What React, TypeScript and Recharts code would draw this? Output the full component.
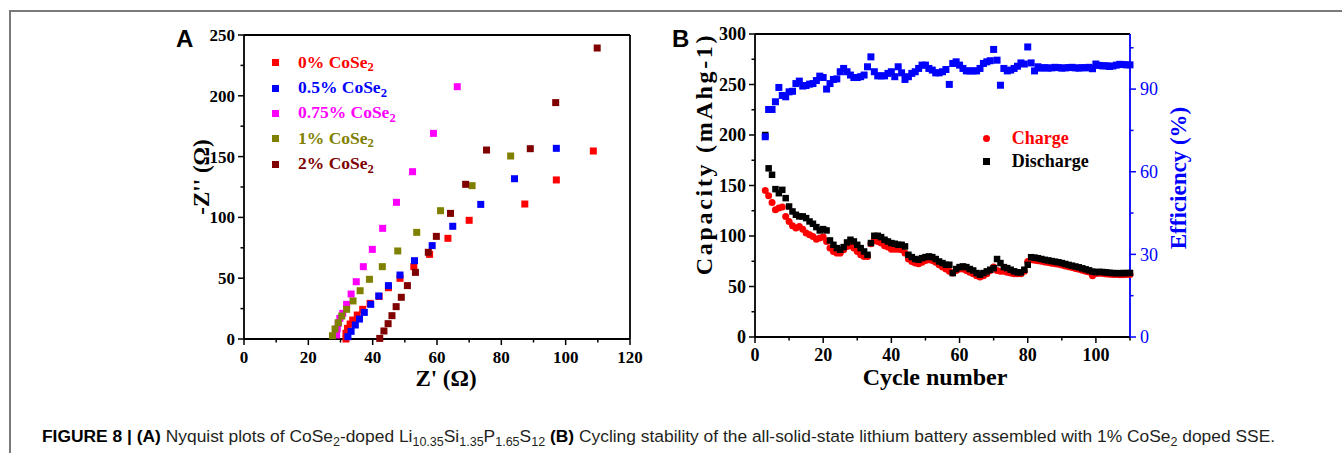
import React from 'react';
import { ScatterChart, Scatter, XAxis, YAxis, ReferenceLine, Legend } from 'recharts';

// ---- Panel A: Nyquist plots, Z' (re) vs -Z'' (im) ----
const re0 = [31.7, 31.7, 32.2, 33, 33.8, 35.2, 36.9, 39.2, 42, 44.9, 48.5, 52.8, 57.7, 63.4, 70, 87.3, 97.1, 108.6];
const im0 = [0, 4.7, 8.8, 12.3, 15.6, 19.7, 24.4, 29.3, 35, 42.2, 49.9, 59.5, 69.6, 82.8, 97.6, 111, 130.8, 154.6];
const re05 = [32.3, 33.3, 34.6, 35.9, 37.4, 39.4, 41.9, 44.9, 48.5, 53, 58.5, 64.9, 73.6, 84.1, 97.1];
const im05 = [1.9, 6.3, 11.5, 16.4, 21.9, 28.5, 35.4, 43.9, 52.6, 64.4, 76.8, 92.7, 110.7, 131.8, 156.8];
const re075 = [28.8, 29, 29.3, 29.8, 30.7, 31.9, 33.3, 34.9, 37.1, 39.9, 43.1, 47.4, 52.4, 58.9, 66.3];
const im075 = [3.3, 8.5, 12.9, 17, 21.1, 28.5, 37, 47.1, 59.5, 73.7, 91, 112.4, 137.6, 169.1, 207.5];
const re1 = [27.5, 28.3, 29.3, 30.4, 31.9, 33.9, 36.1, 39, 43, 47.8, 53.7, 61.1, 70.9, 82.9];
const im1 = [2.7, 8.2, 13.4, 18.9, 24.4, 31.3, 39.7, 49.1, 59.5, 72.4, 87.7, 105.5, 126.1, 150.5];
const re2 = [42.2, 43.5, 44.8, 46, 47.3, 48.9, 50.8, 53.3, 57.3, 59.8, 64.2, 68.9, 75.4, 89, 96.9, 109.8];
const im2 = [0.5, 6.6, 12.6, 19.2, 26.6, 34.3, 43.9, 54.8, 71.3, 84.4, 103.3, 127.2, 155.4, 156.5, 194.4, 239.3];

const aXTicks = [0, 10, 20, 30, 40, 50, 60, 70, 80, 90, 100, 110, 120];
const aYTicks = [0, 25, 50, 75, 100, 125, 150, 175, 200, 225, 250];

// ---- Panel B: cycling, cycles 3..110 ----
const firstCycle = 3;
const discharge = [
  200, 167, 160.6, 146.4, 142.4, 145.7, 137.5, 129.2, 124.3, 121,
  119.4, 119.4, 117.7, 114.4, 112.1, 108.8, 105.5, 106.8, 105.5, 95.6,
  91.3, 88, 86.4, 89, 93.6, 96.3, 94.6, 91.3, 88, 84.7,
  81.4, 93, 100.2, 100.2, 98.9, 96.3, 94.6, 93, 92.3, 91.3,
  91.3, 89.7, 81.4, 79.1, 77.2, 76.5, 78.1, 79.1, 79.8, 79.1,
  77.2, 74.8, 73.2, 71.5, 71.5, 63.3, 67.3, 69.2, 69.9, 69.2,
  67.3, 65.9, 63.3, 61.7, 63.3, 65, 66.6, 68.2, 77.2, 73.2,
  69.2, 68.2, 66.6, 65, 64, 64, 66.6, 71.5, 79, 78.6,
  78, 77.2, 76.4, 75.8, 75.2, 74.6, 74, 73.2, 72.3, 71.4,
  70.6, 69.8, 69, 68, 67, 66, 64.8, 64.2, 64.5, 64.3,
  64, 63.6, 63.3, 63.2, 63.2, 63.3, 63.3, 63.4,
];
const charge = [
  145, 139.8, 133.2, 126, 127.6, 128.6, 119.4, 114.4, 110.1, 107.8,
  109.5, 106.8, 102.9, 101.2, 99.6, 96.9, 97.9, 98.9, 94.6, 88,
  84.7, 83.1, 83.1, 86.4, 89.7, 90.3, 88, 84.7, 81.4, 79.8,
  79.8, 92.3, 95.6, 94.6, 93, 90.3, 89, 87, 87, 87,
  86.4, 83.1, 77.2, 74.8, 73.2, 72.5, 73.9, 75.8, 76.5, 75.8,
  73.9, 71.5, 69.2, 67.3, 65, 63.3, 65.9, 67.3, 67.3, 65.9,
  64, 62.6, 60.7, 59.3, 60.7, 62.6, 65.9, 69.2, 65.9, 65,
  65, 64, 63.3, 62.6, 62.6, 62.6, 65, 74.8, 76.5, 76,
  75.6, 75, 74.3, 73.7, 73.1, 72.5, 72, 71.2, 70.4, 69.5,
  68.7, 67.9, 67, 66.1, 65.2, 64.3, 60.7, 62.8, 63, 62.8,
  62.5, 62.2, 62, 61.8, 61.7, 61.7, 61.8, 61.8,
];
const efficiency = [
  72.7, 82.6, 82.6, 85.4, 90.6, 87.7, 87.2, 89, 89.2, 92,
  92.9, 91.1, 91.3, 91.8, 92, 93.1, 94.7, 94.2, 90, 92,
  93.5, 93.7, 96.3, 97.5, 96.3, 95.1, 94.2, 94.2, 94.5, 95.1,
  98.1, 101.7, 96.3, 94.8, 94.8, 94.8, 95.7, 96.3, 94.5, 98.1,
  95.9, 93.5, 94.5, 95.7, 96.3, 97.5, 98.7, 98.7, 97.5, 96.9,
  95.9, 95.9, 96.3, 97.1, 91.7, 99.3, 99.9, 98.7, 97.5, 96.6,
  96.6, 96.6, 96.6, 97.5, 99.3, 99.9, 100.3, 104.4, 100.5, 91.4,
  97.5, 96.6, 96.9, 97.5, 98.3, 99.5, 99.1, 105.3, 99.5, 96.6,
  98.1, 97.6, 97.8, 97.6, 97.7, 97.9, 97.8, 97.6, 97.7, 97.8,
  97.9, 97.7, 97.6, 97.8, 97.7, 97.9, 97.4, 99.1, 98.6, 98.4,
  98.5, 98.2, 98.4, 98.7, 99, 98.9, 98.8, 98.8,
];

const bXTicks = [0, 10, 20, 30, 40, 50, 60, 70, 80, 90, 100, 110];
const bLeftTicks = [0, 25, 50, 75, 100, 125, 150, 175, 200, 225, 250, 275, 300];
const bRightTicks = [0, 15, 30, 45, 60, 75, 90, 105];

const zip = (xs: number[], ys: number[]) => xs.map((x, i) => ({ x, y: ys[i] }));
const byCycle = (ys: number[]) => ys.map((y, i) => ({ x: firstCycle + i, y }));

const seriesA = [
  { name: '0% CoSe', color: '#ff0000', data: zip(re0, im0) },
  { name: '0.5% CoSe', color: '#0000ff', data: zip(re05, im05) },
  { name: '0.75% CoSe', color: '#ff00ff', data: zip(re075, im075) },
  { name: '1% CoSe', color: '#808000', data: zip(re1, im1) },
  { name: '2% CoSe', color: '#800000', data: zip(re2, im2) },
];

const SERIF = '"Liberation Serif", "Times New Roman", serif';
const SANS = '"Liberation Sans", Arial, sans-serif';
const TS = 6;
const TM = 4;

function makeTick(side: 'bottom' | 'left' | 'right', step: number, fontSize: number, color: string, weight: string | number) {
  return (props: any) => {
    const { x, y, payload } = props;
    const v = payload.value;
    const major = v % step === 0;
    const len = major ? 6 : 3.5;
    const txt = { fontFamily: SERIF, fontSize, fontWeight: weight, fill: color } as any;
    if (side === 'bottom') {
      const ay = y - TS - TM;
      return (
        <g>
          <line x1={x} x2={x} y1={ay} y2={ay + len} stroke={color} strokeWidth={1.5} />
          {major && <text x={x} y={ay + 24} textAnchor="middle" {...txt}>{v}</text>}
        </g>
      );
    }
    if (side === 'left') {
      const ax = x + TS + TM;
      return (
        <g>
          <line x1={ax} x2={ax - len} y1={y} y2={y} stroke={color} strokeWidth={1.5} />
          {major && <text x={ax - 9} y={y} dy="0.35em" textAnchor="end" {...txt}>{v}</text>}
        </g>
      );
    }
    const ax = x - TS - TM;
    return (
      <g>
        <line x1={ax} x2={ax + len} y1={y} y2={y} stroke={color} strokeWidth={1.5} />
        {major && <text x={ax + 10} y={y} dy="0.35em" textAnchor="start" {...txt}>{v}</text>}
      </g>
    );
  };
}

const square = (size: number, color: string) => (p: any) => (
  <rect x={p.cx - size / 2} y={p.cy - size / 2} width={size} height={size} fill={color} />
);
const circle = (size: number, color: string) => (p: any) => (
  <circle cx={p.cx} cy={p.cy} r={size / 2} fill={color} />
);

const Sub = ({ children }: { children: React.ReactNode }) => (
  <span style={{ fontSize: '0.72em', position: 'relative', top: '0.28em' }}>{children}</span>
);

const abs = (left: number, top: number, extra: React.CSSProperties = {}): React.CSSProperties => ({
  position: 'absolute',
  left,
  top,
  whiteSpace: 'nowrap',
  ...extra,
});

function LegendA() {
  return (
    <div style={{ fontFamily: SERIF, fontWeight: 'bold', fontSize: 17.5 }}>
      {seriesA.map((s) => (
        <div key={s.name} style={{ display: 'flex', alignItems: 'center', height: 25.4 }}>
          <span style={{ width: 7, height: 7, background: s.color, display: 'inline-block' }} />
          <span style={{ marginLeft: 19.5, color: s.color, lineHeight: '20px' }}>
            {s.name}
            <Sub>2</Sub>
          </span>
        </div>
      ))}
    </div>
  );
}

function LegendB() {
  return (
    <div style={{ fontFamily: SERIF, fontWeight: 'bold', fontSize: 18 }}>
      <div style={{ display: 'flex', alignItems: 'center', height: 22.7 }}>
        <span style={{ width: 7, height: 7, borderRadius: '50%', background: '#ff0000', display: 'inline-block' }} />
        <span style={{ marginLeft: 21.7, color: '#ff0000' }}>Charge</span>
      </div>
      <div style={{ display: 'flex', alignItems: 'center', height: 22.7 }}>
        <span style={{ width: 7, height: 7, background: '#000', display: 'inline-block' }} />
        <span style={{ marginLeft: 21.7, color: '#000' }}>Discharge</span>
      </div>
    </div>
  );
}

const axisLine = { stroke: '#000', strokeWidth: 1.8 };

function PanelA() {
  return (
    <div style={abs(150, 20)}>
      <ScatterChart width={500} height={380} margin={{ top: 15, right: 20, bottom: 0, left: 0 }}>
        <XAxis
          type="number"
          dataKey="x"
          domain={[0, 120]}
          ticks={aXTicks}
          interval={0}
          height={61}
          tickSize={TS}
          tickMargin={TM}
          tickLine={false}
          axisLine={axisLine}
          tick={makeTick('bottom', 20, 17, '#000', 'bold')}
        />
        <YAxis
          type="number"
          dataKey="y"
          domain={[0, 250]}
          ticks={aYTicks}
          interval={0}
          width={94}
          tickSize={TS}
          tickMargin={TM}
          tickLine={false}
          axisLine={axisLine}
          tick={makeTick('left', 50, 17, '#000', 'bold')}
        />
        <ReferenceLine y={250} stroke="#000" strokeWidth={1.8} />
        <ReferenceLine x={120} stroke="#000" strokeWidth={1.8} />
        {seriesA.map((s) => (
          <Scatter key={s.name} name={s.name} data={s.data} fill={s.color} shape={square(7, s.color)} isAnimationActive={false} />
        ))}
        <Legend
          layout="vertical"
          align="center"
          verticalAlign="middle"
          wrapperStyle={{ left: 121.5, top: 30, width: 220, height: 130 }}
          content={() => <LegendA />}
        />
      </ScatterChart>
    </div>
  );
}

function PanelB() {
  return (
    <div style={abs(660, 20)}>
      <ScatterChart width={540} height={380} margin={{ top: 14, right: 0, bottom: 0, left: 0 }}>
        <XAxis
          type="number"
          dataKey="x"
          domain={[0, 110]}
          ticks={bXTicks}
          interval={0}
          height={63}
          tickSize={TS}
          tickMargin={TM}
          tickLine={false}
          axisLine={axisLine}
          tick={makeTick('bottom', 20, 18, '#000', 'bold')}
        />
        <YAxis
          yAxisId="left"
          type="number"
          dataKey="y"
          domain={[0, 300]}
          ticks={bLeftTicks}
          interval={0}
          width={95}
          tickSize={TS}
          tickMargin={TM}
          tickLine={false}
          axisLine={axisLine}
          tick={makeTick('left', 50, 18, '#000', 'bold')}
        />
        <YAxis
          yAxisId="right"
          orientation="right"
          type="number"
          dataKey="y"
          domain={[0, 110]}
          ticks={bRightTicks}
          interval={0}
          width={70}
          tickSize={TS}
          tickMargin={TM}
          tickLine={false}
          axisLine={{ stroke: '#0000ff', strokeWidth: 1.8 }}
          tick={makeTick('right', 30, 18, '#0000ff', 'normal')}
        />
        <ReferenceLine yAxisId="left" y={300} stroke="#000" strokeWidth={1.8} />
        <Scatter yAxisId="left" name="Charge" data={byCycle(charge)} fill="#ff0000" shape={circle(7, '#ff0000')} isAnimationActive={false} />
        <Scatter yAxisId="left" name="Discharge" data={byCycle(discharge)} fill="#000" shape={square(6.5, '#000')} isAnimationActive={false} />
        <Scatter yAxisId="right" name="Efficiency" data={byCycle(efficiency)} fill="#0000ff" shape={square(7, '#0000ff')} isAnimationActive={false} />
        <Legend
          layout="vertical"
          align="center"
          verticalAlign="middle"
          wrapperStyle={{ left: 323, top: 107.6, width: 140, height: 46 }}
          content={() => <LegendB />}
        />
      </ScatterChart>
    </div>
  );
}

const titleStyle: React.CSSProperties = { fontFamily: SERIF, fontWeight: 'bold', fontSize: 23, lineHeight: 1 };

export default function App() {
  return (
    <div style={{ position: 'absolute', left: 0, top: 0, width: 1342, height: 453, background: '#fff', overflow: 'hidden' }}>
      <div style={{ position: 'absolute', left: 9, top: 10, width: 1333, height: 443, borderTop: '2px solid #7a7a7a', borderLeft: '2px solid #7a7a7a' }} />
      <PanelA />
      <PanelB />

      <div style={abs(176, 27, { fontFamily: SANS, fontWeight: 'bold', fontSize: 24, lineHeight: 1 })}>A</div>
      <div style={abs(672, 27, { fontFamily: SANS, fontWeight: 'bold', fontSize: 24, lineHeight: 1 })}>B</div>

      <div style={abs(446, 378, { ...titleStyle, transform: 'translate(-50%, -50%)' })}>Z' (Ω)</div>
      <div style={abs(201, 177, { ...titleStyle, transform: 'translate(-50%, -50%) rotate(-90deg)' })}>-Z'' (Ω)</div>

      <div style={abs(935, 377, { ...titleStyle, fontSize: 24, transform: 'translate(-50%, -50%)' })}>Cycle number</div>
      <div style={abs(704, 154, { ...titleStyle, fontSize: 24, letterSpacing: 2.7, transform: 'translate(-50%, -50%) rotate(-90deg)' })}>Capacity (mAhg-1)</div>
      <div style={abs(1178, 178, { ...titleStyle, color: '#0000ff', transform: 'translate(-50%, -50%) rotate(-90deg)' })}>Efficiency (%)</div>

      <div style={abs(42, 426, { fontFamily: SANS, fontSize: 17.4, lineHeight: '20px', color: '#231f20' })}>
        <b style={{ color: '#000' }}>FIGURE 8 | (A)</b> Nyquist plots of CoSe<Sub>2</Sub>-doped Li<Sub>10.35</Sub>Si<Sub>1.35</Sub>P<Sub>1.65</Sub>S<Sub>12</Sub>{' '}
        <b style={{ color: '#000' }}>(B)</b> Cycling stability of the all-solid-state lithium battery assembled with 1% CoSe<Sub>2</Sub> doped SSE.
      </div>
    </div>
  );
}
